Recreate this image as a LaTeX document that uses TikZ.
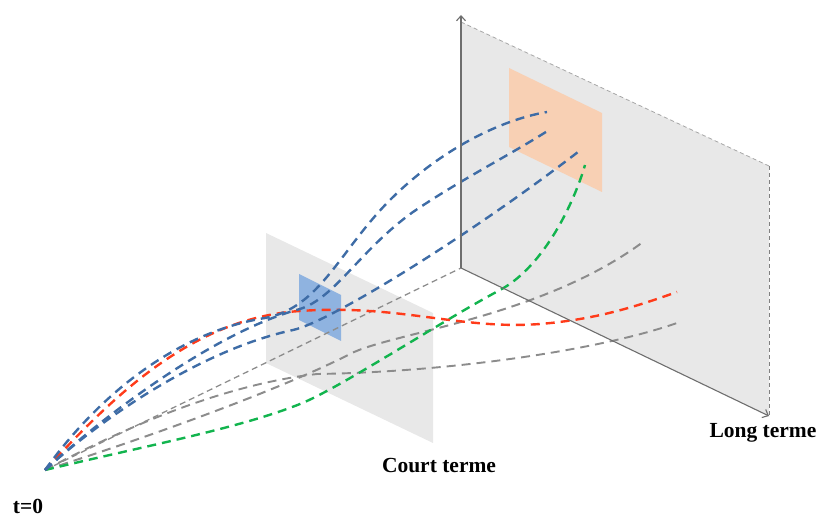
\documentclass[tikz,border=0pt]{standalone}
\usepackage{fontspec}
\setmainfont{Liberation Serif}
\usetikzlibrary{arrows.meta}
\definecolor{planegray}{HTML}{E8E8E8}
\definecolor{axisgray}{HTML}{6E6E6E}
\definecolor{edgegray}{HTML}{A6A6A6}
\definecolor{trajblue}{HTML}{3E6CA6}
\definecolor{trajred}{HTML}{FF3B1A}
\definecolor{trajgreen}{HTML}{12B44E}
\definecolor{trajgray}{HTML}{8C8C8C}
\definecolor{zoneblue}{HTML}{8FB3E0}
\definecolor{zoneorange}{HTML}{F8D0B4}
\begin{document}
\begin{tikzpicture}[x=1pt,y=-1pt,
  plane/.style={fill=planegray,draw=none},
  traj/.style={dash pattern=on 9pt off 6pt,line width=2.4pt},
  thintraj/.style={dash pattern=on 6pt off 4pt,line width=1.3pt},
  axisline/.style={draw=axisgray,line width=1.1pt,-{Straight Barb[length=5pt,width=9pt]}},
  edge/.style={draw=edgegray,line width=0.8pt,dash pattern=on 4pt off 3pt},
  lab/.style={font=\fontsize{21.5}{24}\selectfont\bfseries,inner sep=0pt,anchor=base}]
\useasboundingbox (0,0) rectangle (819,518);

% named corners
\coordinate (O) at (45,470);
\coordinate (A0) at (461,268);
\coordinate (Atop) at (461,15);
\coordinate (Aend) at (769,416);
\coordinate (LTtl) at (461,22);
\coordinate (LTtr) at (769,166);

% long-term plane
\fill[plane] (LTtl) -- (LTtr) -- (Aend) -- (A0) -- cycle;
\draw[edge] (LTtl) -- (LTtr);
\draw[edge,draw=gray] (LTtr) -- (Aend);
% orange zone
\fill[zoneorange] (509,68) -- (602,113) -- (602,192) -- (509,147) -- cycle;

% short-term plane
\fill[plane] (266,233) -- (433,313) -- (433,443) -- (266,363) -- cycle;
% blue zone
\fill[zoneblue] (299,274) -- (341,295) -- (341,341) -- (299,320) -- cycle;

% gray trajectories
\draw[thintraj,trajgray] (O) -- (A0);
\draw[traj,trajgray,line width=1.9pt] (O) .. controls (120,430) and (220,385) .. (317,374)
   .. controls (450,372) and (600,350) .. (677,323);
\draw[traj,trajgray,line width=2pt] (O) .. controls (140,440) and (280,390) .. (350,354)
   .. controls (390,333) and (540,318) .. (643,242);

% green trajectory
\draw[traj,trajgreen] (O) .. controls (150,445) and (240,428) .. (300,404)
   .. controls (340,388) and (440,322) .. (500,290)
   .. controls (545,266) and (575,200) .. (585,165);

% red trajectory
\draw[traj,trajred] (O) .. controls (110,400) and (190,318) .. (300,311)
   .. controls (400,304) and (460,330) .. (540,324)
   .. controls (600,319) and (640,305) .. (677,292);

% blue trajectories
\draw[traj,trajblue] (O) .. controls (110,380) and (190,330) .. (265,318)
   .. controls (320,308) and (340,250) .. (390,200)
   .. controls (440,150) and (500,120) .. (547,112);
\draw[traj,trajblue] (O) .. controls (110,410) and (220,330) .. (300,309)
   .. controls (335,298) and (360,250) .. (413,212)
   .. controls (460,180) and (510,155) .. (549,130);
\draw[traj,trajblue] (O) .. controls (100,420) and (200,350) .. (293,330)
   .. controls (330,322) and (470,235) .. (578,152);

% axes
\draw[axisline] (A0) -- (Atop);
\draw[axisline] (A0) -- (Aend);

% labels
\node[lab] (t0) at (28,513) {t=0};
\node[lab] (court) at (439,472) {Court terme};
\node[lab] (long) at (763,437) {Long terme};
\end{tikzpicture}
\end{document}
